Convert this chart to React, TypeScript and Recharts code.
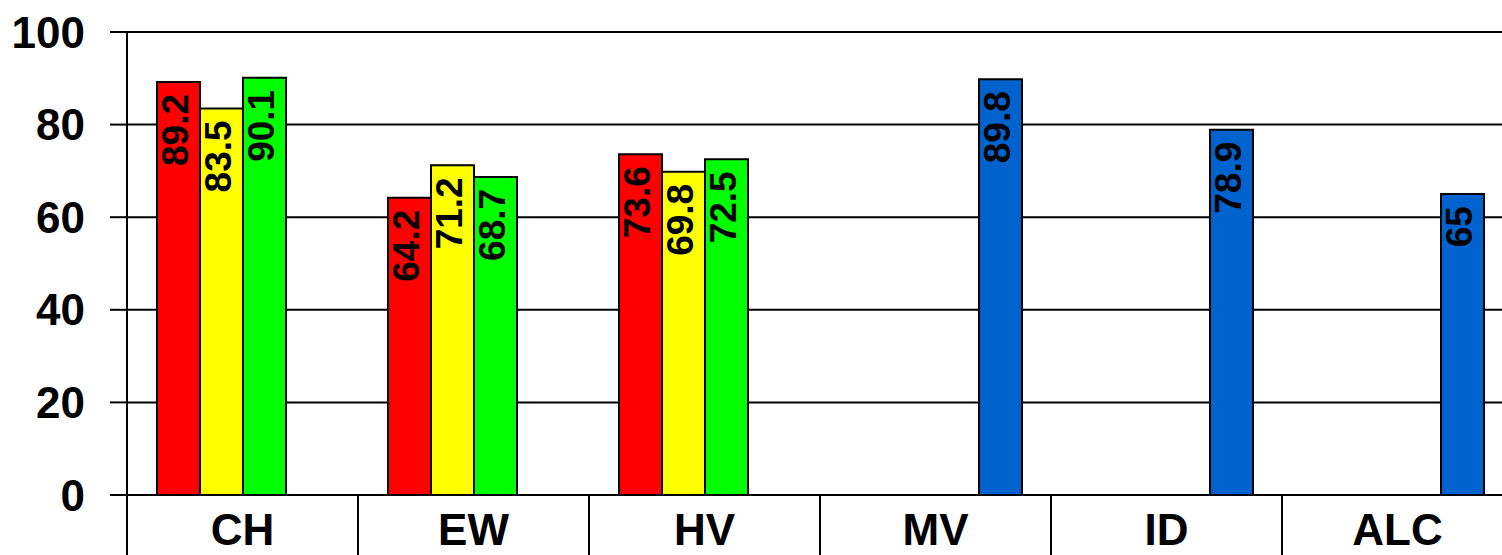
import React from 'react';
import { Bar, BarChart, CartesianGrid, LabelList, XAxis, YAxis } from 'recharts';

// chart data
const categories = ['CH', 'EW', 'HV', 'MV', 'ID', 'ALC'];
const redValues = [89.2, 64.2, 73.6, null, null, null];
const yellowValues = [83.5, 71.2, 69.8, null, null, null];
const greenValues = [90.1, 68.7, 72.5, null, null, null];
const blueValues = [null, null, null, 89.8, 78.9, 65];
const yTicks = [0, 20, 40, 60, 80, 100];

const data = categories.map((name, i) => ({
	name,
	red: redValues[i],
	yellow: yellowValues[i],
	green: greenValues[i],
	blue: blueValues[i],
}));

const FONT = '"Liberation Sans", Arial, sans-serif';
const CHART_W = 1513;
const CHART_H = 555;
const Y_AXIS_W = 127;
const X_AXIS_H = 60;
const BAND = (CHART_W - Y_AXIS_W) / categories.length;

// category label plus the separator line on the left edge of each band
const CategoryTick = (props: any) => {
	const { x, y, payload } = props;
	const left = x - BAND / 2;
	return (
		<g>
			<line x1={left} y1={y} x2={left} y2={y + X_AXIS_H} stroke='#000' strokeWidth={2} />
			<text
				x={x}
				y={y + 50}
				textAnchor='middle'
				fontFamily={FONT}
				fontWeight='bold'
				fontSize={44}
				fill='#000'
			>
				{payload.value}
			</text>
		</g>
	);
};

// rotated value label inside the top of the bar
const ValueLabel = (props: any) => {
	const { x, y, width, value } = props;
	if (value === null || value === undefined) return null;
	const cx = x + width / 2;
	const top = y + 12;
	return (
		<text
			x={cx}
			y={top}
			dy={10}
			transform={`rotate(-90, ${cx}, ${top})`}
			textAnchor='end'
			fontFamily={FONT}
			fontWeight='bold'
			fontSize={37}
			fill='#000'
		>
			{value}
		</text>
	);
};

export default function App() {
	return (
		<div style={{ position: 'absolute', left: 0, top: 0, width: 1502, height: 555, overflow: 'hidden', background: '#fff' }}>
			<BarChart
				width={CHART_W}
				height={CHART_H}
				data={data}
				margin={{ top: 32, right: 0, left: 0, bottom: 0 }}
				barCategoryGap={30}
				barGap={0}
			>
				<CartesianGrid vertical={false} stroke='#000' strokeWidth={2} />
				<XAxis
					dataKey='name'
					height={X_AXIS_H}
					axisLine={{ stroke: '#000', strokeWidth: 2 }}
					tickLine={false}
					tickSize={0}
					tickMargin={0}
					interval={0}
					tick={<CategoryTick />}
				/>
				<YAxis
					width={Y_AXIS_W}
					domain={[0, 100]}
					ticks={yTicks}
					interval={0}
					axisLine={{ stroke: '#000', strokeWidth: 2 }}
					tickLine={{ stroke: '#000', strokeWidth: 2 }}
					tickSize={17}
					tickMargin={25}
					tick={{ fill: '#000', fontSize: 44, fontWeight: 'bold', fontFamily: FONT }}
				/>
				<Bar dataKey='red' fill='#FF0000' stroke='#000' strokeWidth={2} isAnimationActive={false}>
					<LabelList dataKey='red' content={<ValueLabel />} />
				</Bar>
				<Bar dataKey='yellow' fill='#FFFF00' stroke='#000' strokeWidth={2} isAnimationActive={false}>
					<LabelList dataKey='yellow' content={<ValueLabel />} />
				</Bar>
				<Bar dataKey='green' fill='#00FF00' stroke='#000' strokeWidth={2} isAnimationActive={false}>
					<LabelList dataKey='green' content={<ValueLabel />} />
				</Bar>
				<Bar dataKey='blue' fill='#0062CC' stroke='#000' strokeWidth={2} isAnimationActive={false}>
					<LabelList dataKey='blue' content={<ValueLabel />} />
				</Bar>
			</BarChart>
		</div>
	);
}
